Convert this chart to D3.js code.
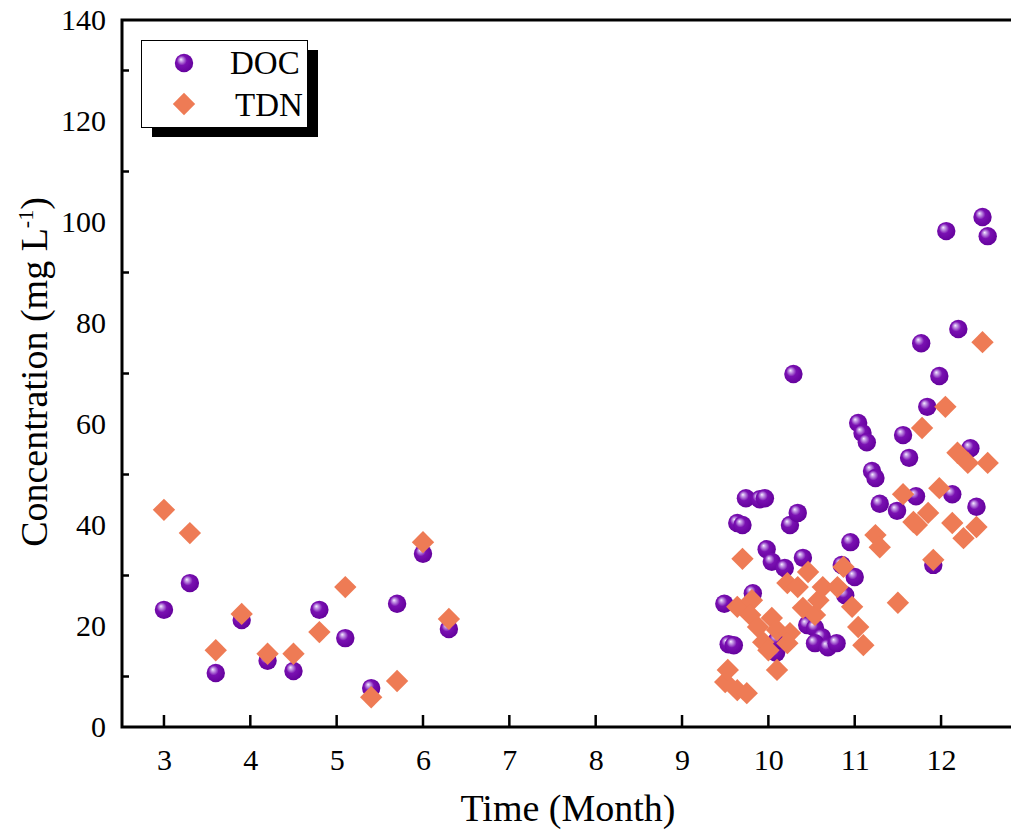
<!DOCTYPE html>
<html>
<head>
<meta charset="utf-8">
<script src="https://cdn.jsdelivr.net/npm/d3@7"></script>
<style>
  body { margin: 0; background: #fff; }
  svg text { font-family: "Liberation Serif", "Times New Roman", serif; fill: #000; }
</style>
</head>
<body>
<svg id="chart" width="1011" height="834"></svg>
<script>
// DOC (month, mg/L)
const docMonth = [3.0, 3.3, 3.6, 3.9, 4.2, 4.5, 4.8, 5.1, 5.4, 5.7, 6.0, 6.3,
  9.49, 9.54, 9.60, 9.64, 9.70, 9.74, 9.82, 9.90, 9.96, 9.98, 10.04, 10.09, 10.10,
  10.19, 10.25, 10.34, 10.29, 10.40, 10.45, 10.54, 10.62, 10.54, 10.69, 10.79, 10.85,
  10.89, 10.95, 11.00, 11.04, 11.09, 11.14, 11.20, 11.24, 11.29, 11.49, 11.56, 11.63,
  11.71, 11.77, 11.84, 11.91, 11.98, 12.06, 12.13, 12.20, 12.34, 12.41, 12.48, 12.54];
const docValue = [23.2, 28.5, 10.7, 21.2, 13.1, 11.1, 23.2, 17.6, 7.7, 24.4, 34.3, 19.4,
  24.4, 16.4, 16.2, 40.4, 40.0, 45.3, 26.5, 45.1, 45.3, 35.2, 32.7, 14.7, 17.2,
  31.5, 40.0, 42.4, 69.9, 33.5, 20.2, 19.6, 17.8, 16.6, 15.8, 16.6, 32.1,
  26.1, 36.6, 29.7, 60.2, 58.2, 56.4, 50.7, 49.3, 44.2, 42.8, 57.8, 53.3,
  45.7, 76.0, 63.4, 32.1, 69.5, 98.2, 46.1, 78.8, 55.2, 43.6, 101.0, 97.2];

// TDN (month, mg/L)
const tdnMonth = [3.0, 3.3, 3.6, 3.9, 4.2, 4.5, 4.8, 5.1, 5.4, 5.7, 6.0, 6.3,
  9.50, 9.53, 9.64, 9.75, 9.70, 9.64, 9.81, 9.79, 9.88, 10.04, 10.10, 9.94, 10.00,
  10.10, 10.25, 10.22, 10.22, 10.34, 10.46, 10.40, 10.54, 10.58, 10.63, 10.80, 10.87,
  10.97, 11.04, 11.10, 11.24, 11.29, 11.50, 11.56, 11.68, 11.72, 11.78, 11.85, 11.91,
  11.98, 12.05, 12.13, 12.19, 12.26, 12.31, 12.41, 12.48, 12.54];
const tdnValue = [43.0, 38.4, 15.2, 22.4, 14.5, 14.5, 18.8, 27.7, 5.9, 9.1, 36.6, 21.4,
  8.9, 11.3, 7.3, 6.7, 33.3, 23.8, 25.1, 22.2, 19.8, 21.6, 19.2, 16.8, 15.2,
  11.3, 18.6, 16.6, 28.5, 27.7, 30.7, 23.6, 22.2, 25.1, 27.7, 27.7, 31.7,
  23.8, 19.8, 16.2, 38.0, 35.6, 24.6, 46.1, 40.6, 40.0, 59.2, 42.4, 33.1,
  47.3, 63.4, 40.4, 54.3, 37.4, 52.3, 39.6, 76.2, 52.3];

const xTicks = [3, 4, 5, 6, 7, 8, 9, 10, 11, 12];
const yLabels = [0, 20, 40, 60, 80, 100, 120, 140];
const yMinor = [10, 30, 50, 70, 90, 110, 130];

const docData = docMonth.map((m, i) => ({ x: m, y: docValue[i] }));
const tdnData = tdnMonth.map((m, i) => ({ x: m, y: tdnValue[i] }));

const svg = d3.select('#chart');
const plot = { left: 122, right: 1011, top: 20, bottom: 727 };

const x = d3.scaleLinear().domain([2.514, 12.81]).range([plot.left, plot.right]);
const y = d3.scaleLinear().domain([0, 140]).range([plot.bottom, plot.top]);

// sphere gradient for DOC markers
const defs = svg.append('defs');
const grad = defs.append('radialGradient')
    .attr('id', 'sphere')
    .attr('cx', '0.45').attr('cy', '0.45').attr('r', '0.6')
    .attr('fx', '0.33').attr('fy', '0.3');
grad.append('stop').attr('offset', '0%').attr('stop-color', '#f8f0ff');
grad.append('stop').attr('offset', '15%').attr('stop-color', '#c8a0e8');
grad.append('stop').attr('offset', '45%').attr('stop-color', '#7a10b2');
grad.append('stop').attr('offset', '100%').attr('stop-color', '#62009a');

const tdnColor = '#ee7b55';
const diamond = d3.symbol().type(d3.symbolSquare).size(250);

// axes
const xAxis = svg.append('g')
    .attr('transform', `translate(0,${plot.bottom})`)
    .call(d3.axisBottom(x).tickValues(xTicks).tickSize(0).tickPadding(22).tickFormat(d3.format('d')));
xAxis.select('.domain').remove();
xAxis.selectAll('text').style('font-size', '30px');

const yAxis = svg.append('g')
    .attr('transform', `translate(${plot.left},0)`)
    .call(d3.axisLeft(y).tickValues(yLabels).tickSize(0).tickPadding(16));
yAxis.select('.domain').remove();
yAxis.selectAll('text').style('font-size', '30px');

// inward ticks
svg.append('g').selectAll('line')
  .data(xTicks)
  .join('line')
    .attr('x1', d => x(d)).attr('x2', d => x(d))
    .attr('y1', plot.bottom).attr('y2', plot.bottom - 12)
    .attr('stroke', '#000').attr('stroke-width', 2.5);

svg.append('g').selectAll('line')
  .data(yMinor)
  .join('line')
    .attr('x1', plot.left).attr('x2', plot.left + 7)
    .attr('y1', d => y(d)).attr('y2', d => y(d))
    .attr('stroke', '#000').attr('stroke-width', 2.5);

// frame lines: left, bottom, top
svg.append('path')
    .attr('d', `M${plot.right},${plot.top}H${plot.left}V${plot.bottom}H${plot.right}`)
    .attr('fill', 'none')
    .attr('stroke', '#000')
    .attr('stroke-width', 3);

// points
svg.append('g').selectAll('circle')
  .data(docData)
  .join('circle')
    .attr('cx', d => x(d.x))
    .attr('cy', d => y(d.y))
    .attr('r', 9.2)
    .attr('fill', 'url(#sphere)');

svg.append('g').selectAll('path')
  .data(tdnData)
  .join('path')
    .attr('d', diamond)
    .attr('transform', d => `translate(${x(d.x)},${y(d.y)}) rotate(45)`)
    .attr('fill', tdnColor);

// axis titles
svg.append('text')
    .attr('x', 568)
    .attr('y', 821)
    .attr('text-anchor', 'middle')
    .style('font-size', '38px')
    .text('Time (Month)');

const yt = svg.append('text')
    .attr('transform', 'translate(47,372) rotate(-90)')
    .attr('text-anchor', 'middle')
    .style('font-size', '38px');
yt.append('tspan').text('Concentration (mg L');
yt.append('tspan').attr('dy', -14).style('font-size', '22px').text('-1');
yt.append('tspan').attr('dy', 14).text(')');

// legend
const lg = svg.append('g');
lg.append('rect').attr('x', 152).attr('y', 50).attr('width', 166).attr('height', 87).attr('fill', '#000');
lg.append('rect').attr('x', 141.5).attr('y', 40.5).attr('width', 166).attr('height', 87)
    .attr('fill', '#fff').attr('stroke', '#000').attr('stroke-width', 1);
lg.append('circle').attr('cx', 184).attr('cy', 63).attr('r', 9.2).attr('fill', 'url(#sphere)');
lg.append('path').attr('d', diamond).attr('transform', 'translate(184,104) rotate(45)').attr('fill', tdnColor);
lg.append('text').attr('x', 230).attr('y', 74).style('font-size', '33px').text('DOC');
lg.append('text').attr('x', 235).attr('y', 116).style('font-size', '33px').text('TDN');
</script>
</body>
</html>
